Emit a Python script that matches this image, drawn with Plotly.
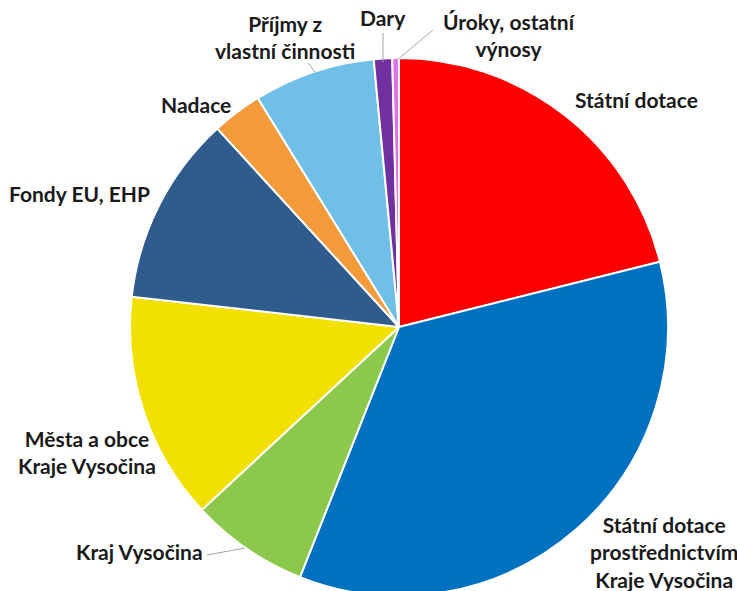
import plotly.graph_objects as go

labels = ["Státní dotace", "Státní dotace prostřednictvím Kraje Vysočina", "Kraj Vysočina",
          "Města a obce Kraje Vysočina", "Fondy EU, EHP", "Nadace",
          "Příjmy z vlastní činnosti", "Dary", "Úroky, ostatní výnosy"]
values = [21.1, 34.9, 7.1, 13.7, 11.4, 3.0, 7.3, 1.1, 0.4]
colors = ["#FF0000", "#0070C0", "#8CC84B", "#F2E000", "#2F5B8D", "#F39A3B",
          "#70BFE6", "#7030A0", "#E070E8"]

# label texts and their placement (pixel positions in the visible 737x591 frame)
label_texts = ["Státní dotace", "Státní dotace<br>prostřednictvím<br>Kraje Vysočina", "Kraj Vysočina",
               "Města a obce<br>Kraje Vysočina", "Fondy EU, EHP", "Nadace",
               "Příjmy z<br>vlastní činnosti", "Dary", "Úroky, ostatní<br>výnosy"]
label_pos = [(636, 100), (664, 552), (139, 551), (87, 452), (79, 193), (196, 104),
             (285, 37), (383, 18), (510, 35)]
leaders = [None, None, ((207, 555), (245, 548)), None, None, None,
           ((308, 63), (315, 72)), ((383, 33), (383, 62)), ((433, 30), (397, 60))]

W, H = 737, 610  # figure slightly taller than the window so the pie's bottom is cropped
cx, cy, rd = 399, 327, 269

fig = go.Figure(go.Pie(
    labels=labels, values=values, sort=False, direction="clockwise", rotation=0,
    marker=dict(colors=colors, line=dict(color="white", width=2)),
    textinfo="none", hoverinfo="label+percent", showlegend=False,
    domain=dict(x=[(cx - rd) / W, (cx + rd) / W],
                y=[(H - cy - rd) / H, (H - cy + rd) / H]),
))

for txt, (x, y) in zip(label_texts, label_pos):
    fig.add_annotation(x=x / W, y=1 - y / H, xref="paper", yref="paper", text=txt,
                       showarrow=False, xanchor="center", yanchor="middle",
                       font=dict(family="Lato", size=21, color="#1a1a1a", weight="bold"),
                       align="center")
for ld in leaders:
    if ld:
        (x0, y0), (x1, y1) = ld
        fig.add_shape(type="line", xref="paper", yref="paper",
                      x0=x0 / W, y0=1 - y0 / H, x1=x1 / W, y1=1 - y1 / H,
                      line=dict(color="#a6a6a6", width=1))

fig.update_layout(width=W, height=H, autosize=False,
                  margin=dict(l=0, r=0, t=0, b=0), paper_bgcolor="white",
                  plot_bgcolor="white", font=dict(family="Lato"))
fig.write_html("out.html", config={"displayModeBar": False},
               post_script="document.body.style.margin='0';document.body.style.overflow='hidden';"
                           "document.documentElement.style.overflow='hidden';")
